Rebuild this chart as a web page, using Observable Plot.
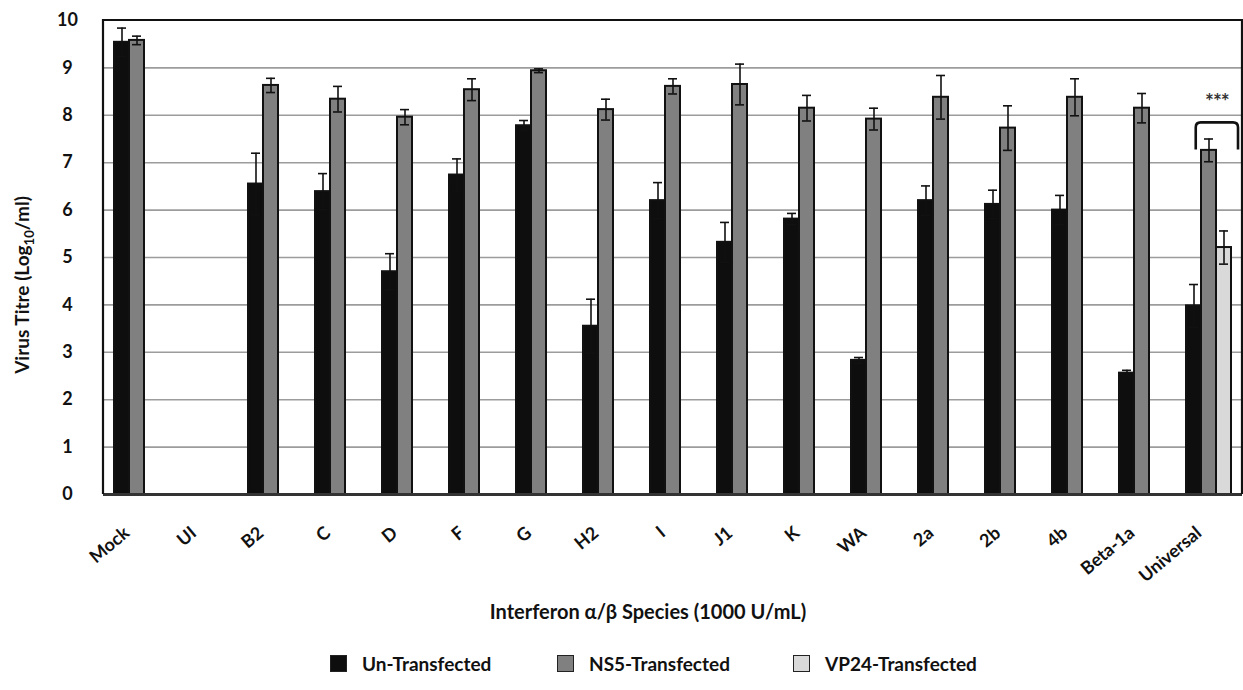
<!DOCTYPE html>
<html>
<head>
<meta charset="utf-8">
<script src="https://cdn.jsdelivr.net/npm/d3@7"></script>
<script src="https://cdn.jsdelivr.net/npm/@observablehq/plot@0.6"></script>
<style>
  body { margin: 0; background: #fff; font-family: Lato, "Open Sans", sans-serif; }
  #wrap { position: relative; width: 1243px; height: 690px; }
  .legend-item { position: absolute; top: 654px; height: 18px; display: flex; align-items: center; font-weight: 700; font-size: 19px; color: #111; white-space: nowrap; }
  .legend-item .sw { width: 17px; height: 17px; box-sizing: border-box; border: 1px solid #222; margin-right: 15px; }
</style>
</head>
<body>
<div id="wrap"></div>
<script>
// Interferon species tested (x categories)
const species = ["Mock", "UI", "B2", "C", "D", "F", "G", "H2", "I", "J1", "K", "WA", "2a", "2b", "4b", "Beta-1a", "Universal"];
// Cell treatments (bar series)
const series = ["Un-Transfected", "NS5-Transfected", "VP24-Transfected"];
const seriesColors = ["#0e0e0e", "#808080", "#d9d9d9"];

// Mean virus titres (log10/ml) and error (±), null where not measured
const unTransfected    = [9.54, null, 6.55, 6.39, 4.70, 6.74, 7.78, 3.55, 6.20, 5.32, 5.81, 2.83, 6.20, 6.12, 6.00, 2.56, 3.98];
const unTransfectedErr = [0.30, null, 0.65, 0.38, 0.38, 0.34, 0.11, 0.57, 0.38, 0.42, 0.12, 0.06, 0.31, 0.30, 0.31, 0.06, 0.45];
const ns5Transfected    = [9.58, null, 8.63, 8.34, 7.96, 8.54, 8.94, 8.12, 8.61, 8.65, 8.15, 7.92, 8.38, 7.73, 8.38, 8.15, 7.26];
const ns5TransfectedErr = [0.09, null, 0.15, 0.27, 0.16, 0.23, 0.04, 0.22, 0.16, 0.43, 0.27, 0.23, 0.46, 0.47, 0.39, 0.31, 0.24];
const vp24Transfected    = [null, null, null, null, null, null, null, null, null, null, null, null, null, null, null, null, 5.21];
const vp24TransfectedErr = [null, null, null, null, null, null, null, null, null, null, null, null, null, null, null, null, 0.35];

// Significance bracket over the Universal group
const bracketSpecies = "Universal";
const bracketLow = 7.27, bracketHigh = 7.84, bracketLabelValue = 8.36;
const bracketLabel = "***";

const yTicks = d3.range(0, 11);
const gridValues = d3.range(1, 10);

const valueArrays = [unTransfected, ns5Transfected, vp24Transfected];
const errArrays = [unTransfectedErr, ns5TransfectedErr, vp24TransfectedErr];
const rows = [];
species.forEach((sp, i) => {
  series.forEach((s, j) => {
    const v = valueArrays[j][i];
    if (v != null) rows.push({species: sp, series: s, value: v, err: errArrays[j][i]});
  });
});
// gridlines and baseline repeated in every facet (so empty groups keep them)
const gridRows = species.flatMap(sp => gridValues.map(v => ({species: sp, value: v})));
const baseRows = species.map(sp => ({species: sp, value: 0}));

const W = 1243, H = 630;
const font = "Lato, 'Open Sans', sans-serif";
const seriesPaddingOuter = 0.6;

const chart = Plot.plot({
  width: W,
  height: H,
  marginLeft: 103,
  marginRight: 1,
  marginTop: 20,
  marginBottom: H - 494,
  style: {fontFamily: font, fontWeight: 700, color: "#111", background: "#fff", overflow: "visible"},
  fx: {domain: species, padding: 0, label: null},
  x: {domain: series, paddingInner: 0, paddingOuter: seriesPaddingOuter, axis: null},
  y: {domain: [0, 10], label: null},
  color: {domain: series, range: seriesColors},
  marks: [
    Plot.ruleY(gridRows, {fx: "species", y: "value", stroke: "#9c9c9c", strokeWidth: 1.6}),
    Plot.barY(rows, {fx: "species", x: "series", y: "value", fill: "series", stroke: "#111", strokeWidth: 2}),
    Plot.ruleX(rows, {fx: "species", x: "series", y1: d => d.value - d.err, y2: d => d.value + d.err, stroke: "#111", strokeWidth: 1.6}),
    Plot.tickY(rows, {fx: "species", x: "series", y: d => d.value + d.err, stroke: "#111", strokeWidth: 1.6, inset: 3}),
    Plot.tickY(rows, {fx: "species", x: "series", y: d => d.value - d.err, stroke: "#111", strokeWidth: 1.6, inset: 3}),
    Plot.ruleY(baseRows, {fx: "species", y: "value", stroke: "#333", strokeWidth: 3}),
    Plot.axisY({ticks: yTicks, facetAnchor: "left", tickSize: 0, tickPadding: 36, textAnchor: "middle", fontSize: 18, fontWeight: 700, label: null}),
    Plot.axisFx({anchor: "bottom", tickRotate: -40, tickSize: 0, tickPadding: 36, dx: -10, fontSize: 18, fontWeight: 700, label: null})
  ]
});

const svg = d3.select(chart);
const fxS = chart.scale("fx"), yS = chart.scale("y");
const yPos = v => yS.apply(v);
// position of a series bar inside one species group
const xIn = d3.scaleBand(series, [0, fxS.bandwidth]).paddingInner(0).paddingOuter(seriesPaddingOuter);
const bw = xIn.bandwidth();

// Plot frame: left, top and right borders
const [x0, x1] = fxS.range;
const yTop = yPos(10), yBot = yPos(0);
svg.append("path")
  .attr("d", `M${x0},${yBot}V${yTop}H${x1}V${yBot}`)
  .attr("fill", "none").attr("stroke", "#111").attr("stroke-width", 2.2);

// Significance bracket
const gx = fxS.apply(bracketSpecies);
const bl = gx + xIn(series[0]) + bw * 0.7;
const br = gx + xIn(series[2]) + bw * 1.35;
const bt = yPos(bracketHigh), bb = yPos(bracketLow), r = 5;
svg.append("path")
  .attr("d", `M${bl},${bb}V${bt + r}Q${bl},${bt} ${bl + r},${bt}H${br - r}Q${br},${bt} ${br},${bt + r}V${bb}`)
  .attr("fill", "none").attr("stroke", "#111").attr("stroke-width", 2.6);
svg.append("text")
  .attr("x", (bl + br) / 2).attr("y", yPos(bracketLabelValue))
  .attr("dy", "0.55em")
  .attr("text-anchor", "middle")
  .attr("font-size", 21).attr("font-weight", 700).attr("fill", "#333")
  .attr("letter-spacing", -1)
  .attr("font-family", font)
  .text(bracketLabel);

// Axis titles
const yTitle = svg.append("text")
  .attr("transform", "translate(29,285) rotate(-90)")
  .attr("text-anchor", "middle")
  .attr("font-size", 19).attr("font-weight", 700).attr("fill", "#111")
  .attr("font-family", font);
yTitle.append("tspan").text("Virus Titre (Log");
yTitle.append("tspan").attr("font-size", 13).attr("dy", 5).text("10");
yTitle.append("tspan").attr("dy", -5).text("/ml)");

svg.append("text")
  .attr("x", 648).attr("y", 619)
  .attr("text-anchor", "middle")
  .attr("font-size", 20).attr("font-weight", 700).attr("fill", "#111")
  .attr("font-family", font)
  .text("Interferon \u03b1/\u03b2 Species (1000 U/mL)");

const wrap = d3.select("#wrap");
wrap.node().appendChild(chart);

// Legend
const legendLeft = [330, 557, 793];
series.forEach((s, i) => {
  const item = wrap.append("div").attr("class", "legend-item").style("left", legendLeft[i] + "px");
  item.append("div").attr("class", "sw").style("background", seriesColors[i]);
  item.append("span").text(s);
});
</script>
</body>
</html>
